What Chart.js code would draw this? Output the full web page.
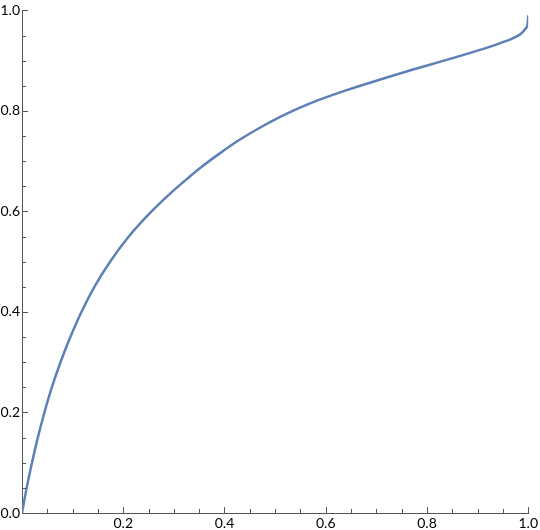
<!DOCTYPE html>
<html>
<head>
<meta charset="utf-8">
<script src="https://cdn.jsdelivr.net/npm/chart.js@4"></script>
<style>
  html, body { margin: 0; padding: 0; background: #fff; }
  #wrap { width: 540px; height: 530px; }
</style>
</head>
<body>
<div id="wrap"><canvas id="curveChart" width="540" height="530"></canvas></div>
<script>
// Curve points (x, y)
const xValues = [0, 0.0092, 0.0197, 0.031, 0.044, 0.0586, 0.0757, 0.0947, 0.116, 0.143, 0.174,
  0.211, 0.252, 0.291, 0.331, 0.35, 0.39, 0.429, 0.469, 0.508, 0.548, 0.584, 0.64, 0.706, 0.771,
  0.837, 0.903, 0.942, 0.968, 0.985, 0.995, 0.999, 1.0];
const yValues = [0, 0.05, 0.1, 0.149, 0.199, 0.249, 0.299, 0.348, 0.397, 0.45, 0.5,
  0.55, 0.596, 0.634, 0.669, 0.685, 0.715, 0.742, 0.766, 0.787, 0.806, 0.821, 0.841, 0.862, 0.882,
  0.901, 0.921, 0.934, 0.944, 0.953, 0.964, 0.974, 0.99];

// Labelled ticks
const xTickLabels = [0.2, 0.4, 0.6, 0.8, 1.0];
const yTickLabels = [0.0, 0.2, 0.4, 0.6, 0.8, 1.0];

const points = xValues.map((x, i) => ({ x: x, y: yValues[i] }));

function isLabelled(value, list) {
  return list.some((v) => Math.abs(v - value) < 1e-6);
}

// Draw ticks pointing into the plot, Mathematica style
const inwardTicks = {
  id: "inwardTicks",
  afterDraw(chart) {
    const ctx = chart.ctx;
    const xs = chart.scales.x;
    const ys = chart.scales.y;
    ctx.save();
    ctx.strokeStyle = "#555";
    ctx.lineWidth = 1;
    xs.ticks.forEach((t) => {
      if (t.value <= 1e-6) return;
      const px = Math.round(xs.getPixelForValue(t.value)) + 0.5;
      const len = isLabelled(t.value, xTickLabels) ? 6 : 4;
      ctx.beginPath();
      ctx.moveTo(px, ys.bottom);
      ctx.lineTo(px, ys.bottom - len);
      ctx.stroke();
    });
    ys.ticks.forEach((t) => {
      if (t.value <= 1e-6) return;
      const py = Math.round(ys.getPixelForValue(t.value)) + 0.5;
      const len = isLabelled(t.value, yTickLabels) ? 6 : 4;
      ctx.beginPath();
      ctx.moveTo(xs.left, py);
      ctx.lineTo(xs.left + len, py);
      ctx.stroke();
    });
    ctx.restore();
  },
};

const ctx = document.getElementById("curveChart").getContext("2d");
new Chart(ctx, {
  type: "scatter",
  data: {
    datasets: [
      {
        data: points,
        showLine: true,
        borderColor: "#5e81b5",
        borderWidth: 2.5,
        pointRadius: 0,
        cubicInterpolationMode: "monotone",
        fill: false,
      },
    ],
  },
  options: {
    responsive: false,
    animation: false,
    layout: { padding: { top: 6, right: 11, left: 0, bottom: 0 } },
    plugins: { legend: { display: false }, tooltip: { enabled: false } },
    scales: {
      x: {
        type: "linear",
        min: 0,
        max: 1,
        afterFit: (scale) => { scale.height = 17; },
        grid: { display: false, drawTicks: false },
        border: { display: true, color: "#555", width: 1 },
        ticks: {
          stepSize: 0.05,
          padding: 2,
          autoSkip: false,
          maxRotation: 0,
          color: "#000",
          font: { family: "Lato", size: 14 },
          callback: (v) => (isLabelled(v, xTickLabels) ? v.toFixed(1) : ""),
        },
      },
      y: {
        type: "linear",
        min: 0,
        max: 1,
        afterFit: (scale) => { scale.width = 22; },
        grid: { display: false, drawTicks: false },
        border: { display: true, color: "#555", width: 1 },
        ticks: {
          stepSize: 0.05,
          padding: 2,
          autoSkip: false,
          color: "#000",
          font: { family: "Lato", size: 14 },
          callback: (v) => (isLabelled(v, yTickLabels) ? v.toFixed(1) : ""),
        },
      },
    },
  },
  plugins: [inwardTicks],
});
</script>
</body>
</html>
